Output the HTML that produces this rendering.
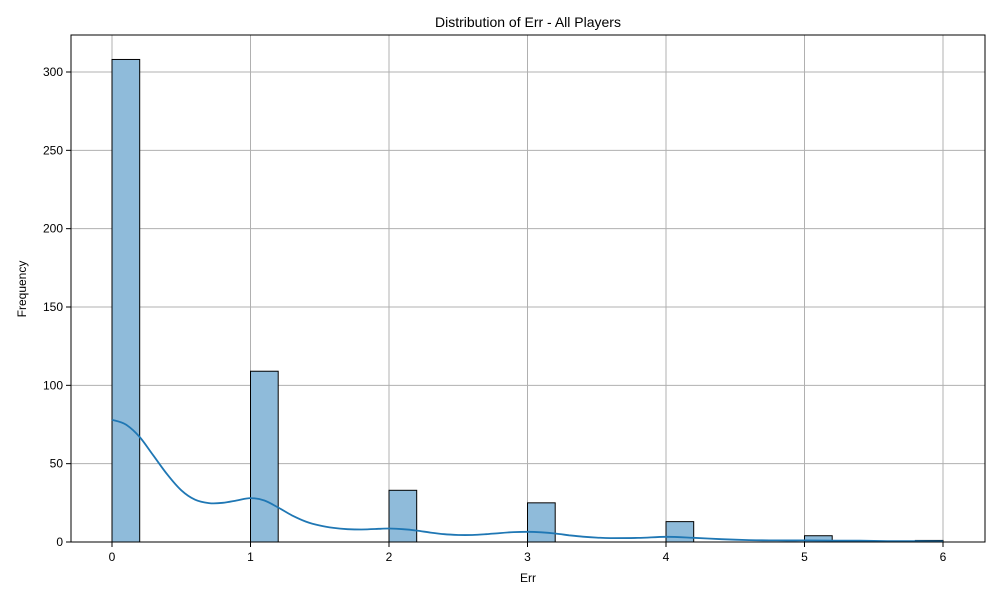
<!DOCTYPE html>
<html><head><meta charset="utf-8"><style>body{margin:0;background:#fff}svg{display:block;font-family:"Liberation Sans","DejaVu Sans",sans-serif}</style></head>
<body>
<svg id="chart" width="1000" height="600">
<rect width="1000" height="600" fill="#fff"/>
<g id="grid"></g><g id="bars"></g><g id="kde"></g><g id="axes"></g>
</svg>
<script>
const binStarts=[0,1,2,3,4,5,5.8];
const binCounts=[308,109,33,25,13,4,1];
const binWidth=0.2;
const kdeX=[0,0.1,0.2,0.3,0.4,0.5,0.6,0.7,0.8,0.9,1.0,1.1,1.2,1.3,1.4,1.5,1.6,1.7,1.8,1.9,2.0,2.1,2.2,2.3,2.4,2.5,2.6,2.7,2.8,2.9,3.0,3.1,3.2,3.3,3.4,3.5,3.6,3.8,4.0,4.2,4.4,4.6,4.8,5.0,5.2,5.4,5.6,5.8,6.0];
const kdeY=[78,75,67,55,43,33,27,24.8,25,26.5,28,26.5,22,17,13,10.5,9,8.2,8,8.3,8.6,8.2,7.3,6,5,4.5,4.5,5,5.7,6.3,6.5,6.2,5.4,4.3,3.4,2.8,2.5,2.6,3.3,2.7,1.8,1.2,1,1,0.9,0.8,0.6,0.5,0.4];
const xTicks=[0,1,2,3,4,5,6];
const yTicks=[0,50,100,150,200,250,300];
const L=71,R=985,T=35,B=542;
const X=v=>112+v*(943-112)/6;
const Y=v=>542-v*(542-72)/300;
const NS='http://www.w3.org/2000/svg';
function mk(p,t,a){const e=document.createElementNS(NS,t);for(const k in a)e.setAttribute(k,a[k]);p.appendChild(e);return e;}
const grid=document.getElementById('grid'),bars=document.getElementById('bars'),kde=document.getElementById('kde'),axes=document.getElementById('axes');
xTicks.forEach(t=>{const l=mk(grid,'line',{x1:X(t),x2:X(t),y1:T,y2:B,stroke:'#b0b0b0','stroke-width':1});

});
yTicks.forEach(t=>{const l=mk(grid,'line',{x1:L,x2:R,y1:Y(t),y2:Y(t),stroke:'#b0b0b0','stroke-width':1});

});
binStarts.forEach((s,i)=>{const r=mk(bars,'rect',{x:X(s),y:Y(binCounts[i]),width:X(s+binWidth)-X(s),height:Y(0)-Y(binCounts[i]),fill:'#8fbbda',stroke:'#000','stroke-width':1});

});
const pts=kdeX.map((x,i)=>[X(x),Y(kdeY[i])]);
let d='M'+pts[0][0].toFixed(1)+','+pts[0][1].toFixed(1);
for(let i=0;i<pts.length-1;i++){const p0=pts[Math.max(0,i-1)],p1=pts[i],p2=pts[i+1],p3=pts[Math.min(pts.length-1,i+2)];
const c1=[p1[0]+(p2[0]-p0[0])/6,p1[1]+(p2[1]-p0[1])/6],c2=[p2[0]-(p3[0]-p1[0])/6,p2[1]-(p3[1]-p1[1])/6];
d+='C'+c1.map(v=>v.toFixed(1)).join(',')+' '+c2.map(v=>v.toFixed(1)).join(',')+' '+p2.map(v=>v.toFixed(1)).join(',');}
const p=mk(kde,'path',{d:d,fill:'none',stroke:'#1f77b4','stroke-width':1.8,'stroke-linejoin':'round'});


const fr=mk(axes,'rect',{x:L,y:T,width:R-L,height:B-T,fill:'none',stroke:'#000','stroke-width':1});


xTicks.forEach(t=>{mk(axes,'line',{x1:X(t),x2:X(t),y1:B,y2:B+5,stroke:'#000'});
const tx=mk(axes,'text',{x:X(t),y:B+19,'text-anchor':'middle','font-size':12});tx.textContent=t;

});
yTicks.forEach(t=>{mk(axes,'line',{x1:L-5,x2:L,y1:Y(t),y2:Y(t),stroke:'#000'});
const tx=mk(axes,'text',{x:L-8,y:Y(t)+4,'text-anchor':'end','font-size':12});tx.textContent=t;

});
</script>
<svg style="position:absolute;left:0;top:0" width="1000" height="600">
<text x="528" y="27" text-anchor="middle" font-size="14">Distribution of Err - All Players</text>
<text x="528" y="582" text-anchor="middle" font-size="12">Err</text>
<text x="26" y="289" text-anchor="middle" font-size="12" transform="rotate(-90 26 289)">Frequency</text>
</svg>
</body></html>
